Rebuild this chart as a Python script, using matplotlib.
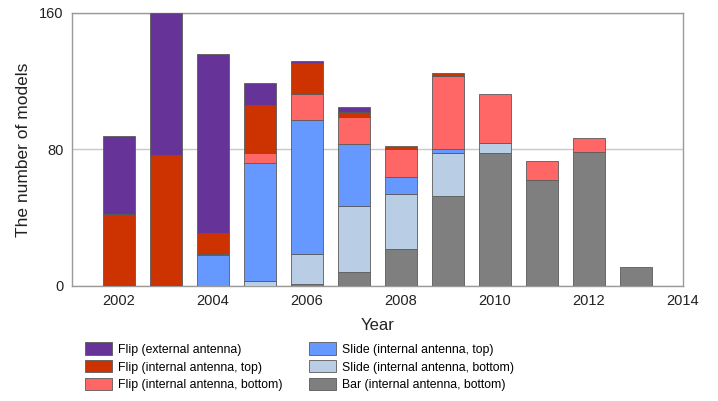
import numpy as np
import matplotlib
matplotlib.use("Agg")
import matplotlib.pyplot as plt

plt.rcParams['font.family'] = ['Liberation Sans', 'DejaVu Sans']

years = [2002, 2003, 2004, 2005, 2006, 2007, 2008, 2009, 2010, 2011, 2012, 2013]

# stacked from the bottom up
bar_bottom = [0, 0, 0, 0, 1, 8, 21.5, 53, 78, 62, 78.5, 11]
slide_bottom = [0, 0, 0, 3, 18, 39, 32.5, 25, 6, 0, 0, 0]
slide_top = [0, 0, 18, 69, 78, 36, 10, 2, 0, 0, 0, 0]
flip_bottom = [0, 0, 1, 6, 15.5, 16, 16, 43, 28.5, 11, 8.5, 0]
flip_top = [42, 77, 12, 28, 18, 3, 2, 2, 0, 0, 0, 0]
flip_external = [46, 83, 105, 13, 1.5, 3, 0, 0, 0, 0, 0, 0]

series = [
    ("Bar (internal antenna, bottom)", bar_bottom, "#7f7f7f"),
    ("Slide (internal antenna, bottom)", slide_bottom, "#b9cde5"),
    ("Slide (internal antenna, top)", slide_top, "#6699ff"),
    ("Flip (internal antenna, bottom)", flip_bottom, "#ff6666"),
    ("Flip (internal antenna, top)", flip_top, "#cc3300"),
    ("Flip (external antenna)", flip_external, "#663399"),
]

fig = plt.figure(figsize=(7.18, 4.01), dpi=100)
ax = fig.add_axes([0.1003, 0.2868, 0.8510, 0.6808])

x = np.array(years, dtype=float)
base = np.zeros(len(years))
handles = {}
for label, vals, color in series:
    v = np.array(vals, dtype=float)
    keep = v > 0
    h = ax.bar(x[keep], v[keep], width=0.7, bottom=base[keep], color=color,
               edgecolor="#5a5a5a", linewidth=0.6, label=label, zorder=3)
    handles[label] = h
    base += v

ax.set_xlim(2001, 2014)
ax.set_ylim(0, 160)
ax.set_xticks([2002, 2004, 2006, 2008, 2010, 2012, 2014])
ax.set_yticks([0, 80, 160])
ax.yaxis.grid(True, color="#c8c8c8", linewidth=1.0, zorder=0)
ax.set_axisbelow(True)
ax.tick_params(length=0, labelsize=10.5, colors="#222222", pad=6)
for s in ax.spines.values():
    s.set_color("#9a9a9a")
    s.set_linewidth(1.0)

ax.set_xlabel("Year", fontsize=12, color="#222222", labelpad=7)
ax.set_ylabel("The number of models", fontsize=12.5, color="#222222", labelpad=6)

order = ["Flip (external antenna)", "Flip (internal antenna, top)",
         "Flip (internal antenna, bottom)", "Slide (internal antenna, top)",
         "Slide (internal antenna, bottom)", "Bar (internal antenna, bottom)"]
fig.legend([handles[k] for k in order], order, loc="upper left",
           bbox_to_anchor=(0.119, 0.146), ncol=2, frameon=False,
           fontsize=8.8, handlelength=2.2, handleheight=1.15, handletextpad=0.45,
           columnspacing=2.2, labelspacing=0.38, borderpad=0, borderaxespad=0)

fig.savefig("out.png", dpi=100)
